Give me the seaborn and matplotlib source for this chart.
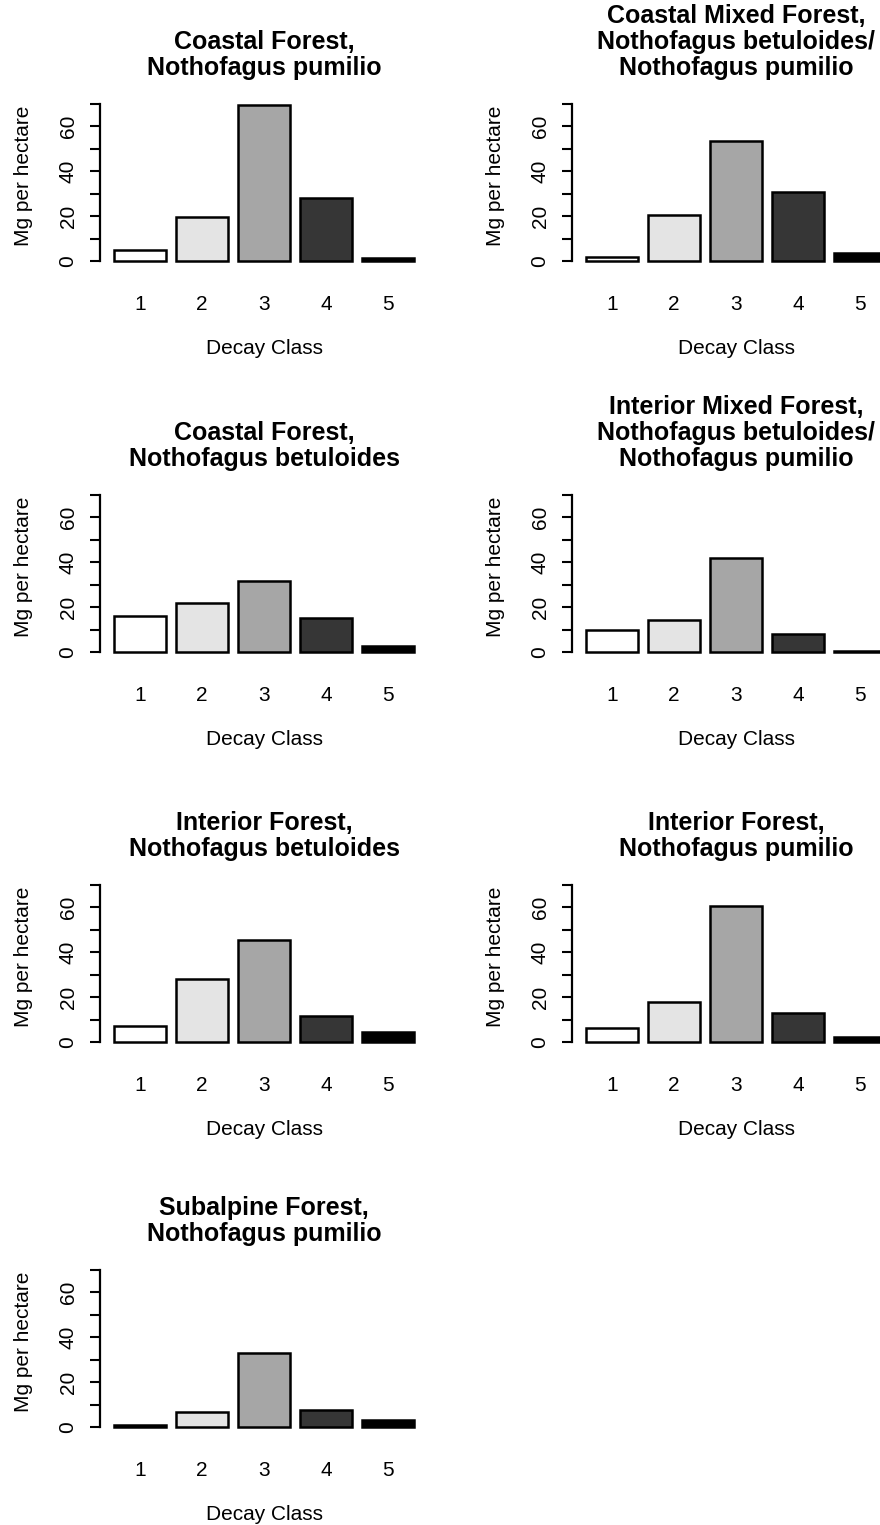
import numpy as np
import pandas as pd
import seaborn as sns
import matplotlib.pyplot as plt

# Decay classes on the x axis
decay_classes = ["1", "2", "3", "4", "5"]

# Panel titles
titles = [
    "Coastal Forest,\nNothofagus pumilio",
    "Coastal Mixed Forest,\nNothofagus betuloides/\nNothofagus pumilio",
    "Coastal Forest,\nNothofagus betuloides",
    "Interior Mixed Forest,\nNothofagus betuloides/\nNothofagus pumilio",
    "Interior Forest,\nNothofagus betuloides",
    "Interior Forest,\nNothofagus pumilio",
    "Subalpine Forest,\nNothofagus pumilio",
]

# Mg per hectare by decay class, one list per panel
coastal_pumilio = [4.8, 19.6, 69.5, 27.8, 1.5]
coastal_mixed = [1.8, 20.4, 53.5, 30.8, 3.4]
coastal_betuloides = [15.8, 21.8, 31.7, 14.9, 2.7]
interior_mixed = [9.9, 14.4, 42.0, 7.8, 0.5]
interior_betuloides = [6.9, 28.0, 45.2, 11.7, 4.4]
interior_pumilio = [6.2, 17.8, 60.3, 12.9, 2.2]
subalpine_pumilio = [0.7, 6.5, 32.9, 7.7, 3.0]

panel_values = [coastal_pumilio, coastal_mixed, coastal_betuloides, interior_mixed,
                interior_betuloides, interior_pumilio, subalpine_pumilio]

y_ticks = [0, 10, 20, 30, 40, 50, 60, 70]
y_tick_labels = ["0", "", "20", "", "40", "", "60", ""]

bar_colors = ["#ffffff", "#e4e4e4", "#a6a6a6", "#363636", "#000000"]

sns.set_theme(style="white")
plt.rcParams['font.family'] = ['Liberation Sans', 'DejaVu Sans']
plt.rcParams['text.color'] = 'black'
plt.rcParams['axes.labelcolor'] = 'black'
plt.rcParams['xtick.color'] = 'black'
plt.rcParams['ytick.color'] = 'black'

W, H = 880, 1525
fig = plt.figure(figsize=(W / 100, H / 100), dpi=100)

# pixel layout (from top-left)
col_x = [100, 572]
row_zero = [261, 652, 1042, 1427]
px_per_unit = 2.25
ymin, ymax = -2.8, 72.8
ax_w = 328
ax_h = (ymax - ymin) * px_per_unit

for i, (title, vals) in enumerate(zip(titles, panel_values)):
    row, col = divmod(i, 2)
    bottom_px = row_zero[row] - ymin * px_per_unit
    ax = fig.add_axes([col_x[col] / W, (H - bottom_px) / H, ax_w / W, ax_h / H])

    df = pd.DataFrame({"Decay Class": decay_classes, "Mg": vals})
    sns.barplot(data=df, x="Decay Class", y="Mg", hue="Decay Class", palette=bar_colors,
                legend=False, width=0.84, saturation=1, edgecolor="black",
                linewidth=1.8, ax=ax)

    ax.set_xlim(-0.646, 4.646)
    ax.set_ylim(ymin, ymax)

    # R style axes: only a left axis running 0..70
    for side in ["top", "right", "bottom"]:
        ax.spines[side].set_visible(False)
    ax.spines["left"].set_bounds(0, 70)
    ax.spines["left"].set_linewidth(1.6)
    ax.spines["left"].set_color("black")

    ax.set_yticks(y_ticks)
    ax.set_yticklabels(y_tick_labels, rotation=90, ha="center", va="center")
    ax.tick_params(axis="y", direction="out", length=7, width=1.5, color="black",
                   pad=16, labelsize=15, left=True)
    ax.tick_params(axis="x", length=0, pad=20, labelsize=15)

    ax.set_xlabel("Decay Class", fontsize=15)
    ax.xaxis.set_label_coords(0.5, -0.42)
    ax.set_ylabel("Mg per hectare", fontsize=15)
    ax.yaxis.set_label_coords(-0.205, 0.54)

    ax.set_title(title, fontsize=18, fontweight="bold", pad=16, linespacing=1.1)

fig.savefig("out.png", dpi=100, facecolor="white")
